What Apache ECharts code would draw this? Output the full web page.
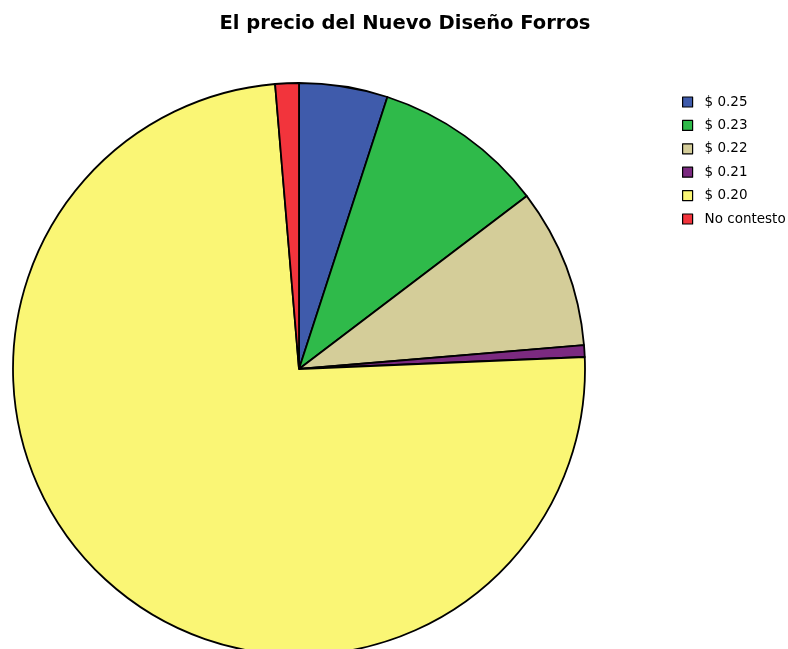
<!DOCTYPE html>
<html>
<head>
<meta charset="utf-8">
<script src="https://cdn.jsdelivr.net/npm/echarts@6/dist/echarts.min.js"></script>
<style>
  html, body { margin: 0; padding: 0; background: #ffffff; }
  #chart { width: 788px; height: 649px; }
</style>
</head>
<body>
<div id="chart"></div>
<script>
// Respuestas por precio (número de encuestados)
var categories = ['$ 0.25', '$ 0.23', '$ 0.22', '$ 0.21', '$ 0.20', 'No contesto'];
var counts = [15, 29, 27, 2, 223, 4];
var colors = ['#3f5bab', '#2fba4a', '#d4cd99', '#7b2a80', '#faf675', '#f2343c'];

var data = categories.map(function (name, i) {
  return { name: name, value: counts[i], itemStyle: { color: colors[i] } };
});

var chart = echarts.init(document.getElementById('chart'));
chart.setOption({
  backgroundColor: '#ffffff',
  animation: false,
  title: {
    text: 'El precio del Nuevo Diseño Forros',
    left: 400,
    textAlign: 'center',
    top: 9,
    textStyle: {
      fontFamily: 'DejaVu Sans, sans-serif',
      fontSize: 19.5,
      fontWeight: 'bold',
      color: '#000000'
    }
  },
  legend: {
    orient: 'vertical',
    left: 677,
    top: 90,
    itemWidth: 10,
    itemHeight: 10,
    itemGap: 9.4,
    icon: 'rect',
    itemStyle: { borderColor: '#000000', borderWidth: 1.2 },
    textStyle: {
      fontFamily: 'DejaVu Sans, sans-serif',
      fontSize: 13.5,
      lineHeight: 14,
      color: '#000000',
      padding: [0, 0, 0, 7]
    },
    data: categories
  },
  series: [{
    type: 'pie',
    center: [299, 369],
    radius: [0, 286],
    startAngle: 90,
    clockwise: true,
    label: { show: false },
    labelLine: { show: false },
    emphasis: { disabled: true },
    itemStyle: { borderColor: '#000000', borderWidth: 1.8 },
    data: data
  }]
});
</script>
</body>
</html>
